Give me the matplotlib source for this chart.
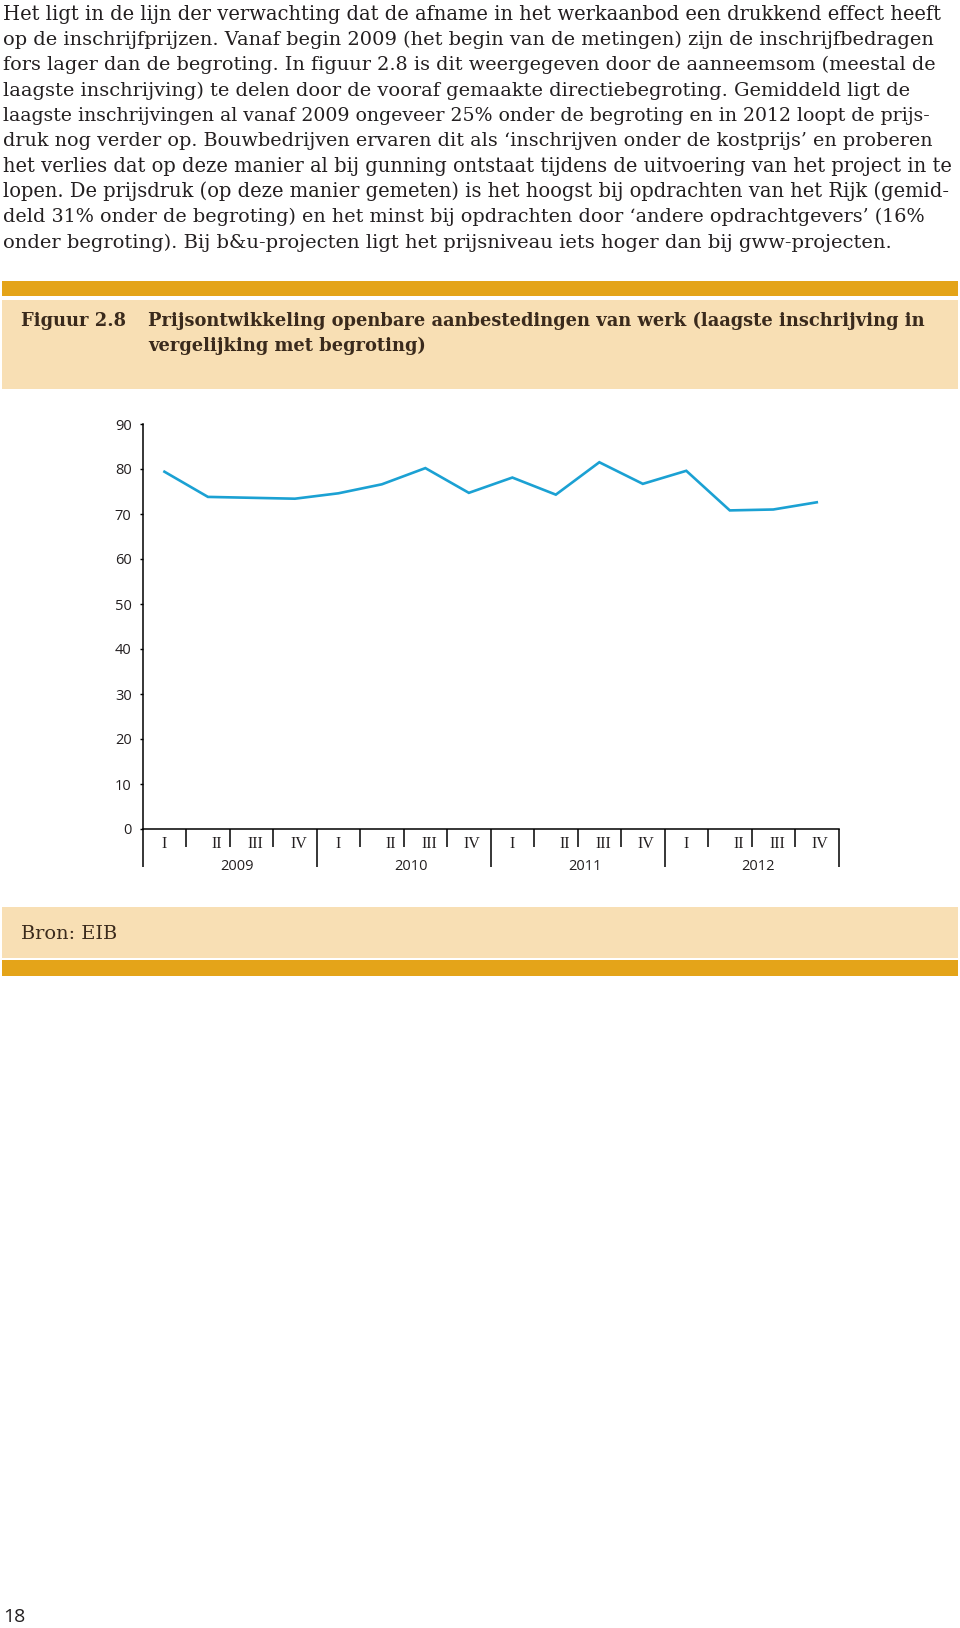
import matplotlib
matplotlib.use('Agg')
import matplotlib.pyplot as plt
from matplotlib.patches import Rectangle
from matplotlib.ticker import FixedLocator, NullFormatter

# ---------------- data ----------------
quarters = ['I', 'II', 'III', 'IV'] * 4
years = ['2009', '2010', '2011', '2012']
values = [79.4, 73.8, 73.6, 73.4, 74.6, 76.6, 80.2, 74.7,
          78.1, 74.3, 81.5, 76.7, 79.6, 70.8, 71.0, 72.6]
yticks = [0, 10, 20, 30, 40, 50, 60, 70, 80, 90]

body_lines = [
    "Het ligt in de lijn der verwachting dat de afname in het werkaanbod een drukkend effect heeft",
    "op de inschrijfprijzen. Vanaf begin 2009 (het begin van de metingen) zijn de inschrijfbedragen",
    "fors lager dan de begroting. In figuur 2.8 is dit weergegeven door de aanneemsom (meestal de",
    "laagste inschrijving) te delen door de vooraf gemaakte directiebegroting. Gemiddeld ligt de",
    "laagste inschrijvingen al vanaf 2009 ongeveer 25% onder de begroting en in 2012 loopt de prijs-",
    "druk nog verder op. Bouwbedrijven ervaren dit als \u2018inschrijven onder de kostprijs\u2019 en proberen",
    "het verlies dat op deze manier al bij gunning ontstaat tijdens de uitvoering van het project in te",
    "lopen. De prijsdruk (op deze manier gemeten) is het hoogst bij opdrachten van het Rijk (gemid-",
    "deld 31% onder de begroting) en het minst bij opdrachten door \u2018andere opdrachtgevers\u2019 (16%",
    "onder begroting). Bij b&u-projecten ligt het prijsniveau iets hoger dan bij gww-projecten.",
]
fig_label = "Figuur 2.8"
title_lines = [
    "Prijsontwikkeling openbare aanbestedingen van werk (laagste inschrijving in",
    "vergelijking met begroting)",
]
source_text = "Bron: EIB"
page_number = "18"

# ---------------- styling ----------------
W, H = 960, 1628
ORANGE = '#E4A419'
BEIGE = '#F8DFB4'
LINE = '#1BA1D3'
TEXT = '#231F20'
BROWN = '#3A2A1C'
body_ends = [937, 927, 927, 900, 926, 926, 948, 946, 916, 885]  # right edge per line (px)

fig = plt.figure(figsize=(W / 100, H / 100), dpi=100)
renderer = fig.canvas.get_renderer()


def fx(x):
    return x / W


def fy(y):
    return 1 - y / H


def rect(x0, y0, x1, y1, color):
    fig.add_artist(Rectangle((fx(x0), fy(y1)), (x1 - x0) / W, (y1 - y0) / H,
                             transform=fig.transFigure, facecolor=color,
                             edgecolor='none', lw=0, zorder=0))


def width_px(t):
    return t.get_window_extent(renderer).width


# body text, each line fitted to its measured width
sizes = []
for k, line in enumerate(body_lines):
    t = fig.text(fx(3), fy(19.5 + 25.37 * k), line, family='DejaVu Serif',
                 fontsize=12, color=TEXT, ha='left', va='baseline')
    fs = 12 * (body_ends[k] - 3) / width_px(t)
    t.set_fontsize(fs)
    sizes.append(fs)
body_fs = sum(sizes) / len(sizes)

# header box
rect(2, 281.5, 958, 296, ORANGE)
rect(2, 299.5, 958, 388.5, BEIGE)
lab = fig.text(fx(21), fy(326), fig_label, family='DejaVu Serif', weight='bold',
               fontsize=11, color=BROWN, ha='left', va='baseline')
tobjs = []
for k, line in enumerate(title_lines):
    t = fig.text(fx(148), fy(326 + 25 * k), line, family='DejaVu Serif',
                 weight='bold', fontsize=11, color=BROWN, ha='left', va='baseline')
    tobjs.append(t)
tscale = (919 - 148) / width_px(tobjs[0])
for t in tobjs + [lab]:
    t.set_fontsize(11 * tscale)

# source box
rect(2, 906.5, 958, 957.5, BEIGE)
rect(2, 960, 958, 976, ORANGE)
fig.text(fx(21), fy(939), source_text, family='DejaVu Serif',
         fontsize=body_fs, color=BROWN, ha='left', va='baseline')

# page number
fig.text(fx(3), fy(1622), page_number, family='Open Sans', fontsize=14,
         color=TEXT, ha='left', va='baseline')

# ---------------- chart ----------------
ax_l, ax_r, ax_t, ax_b = 142.7, 838.5, 424, 829
ax = fig.add_axes([fx(ax_l), fy(ax_b), (ax_r - ax_l) / W, (ax_b - ax_t) / H])
ax.set_facecolor('none')
n = len(values)
xs = [i + 0.5 for i in range(n)]
ax.plot(xs, values, color=LINE, lw=1.9, solid_joinstyle='miter', clip_on=False)
ax.set_xlim(0, n)
ax.set_ylim(0, 90)

for s in ['top', 'right']:
    ax.spines[s].set_visible(False)
for s in ['left', 'bottom']:
    ax.spines[s].set_linewidth(1.1)
    ax.spines[s].set_color('black')

ax.set_yticks(yticks)
ax.set_yticklabels([str(v) for v in yticks])
ax.tick_params(axis='y', direction='out', length=2.2, width=1.0, pad=5.8,
               labelsize=10.5, labelcolor=TEXT)
for lbl in ax.get_yticklabels():
    lbl.set_family('Open Sans')

ax.xaxis.set_major_locator(FixedLocator([4 * j for j in range(len(years) + 1)]))
ax.xaxis.set_minor_locator(FixedLocator([i for i in range(1, n) if i % 4]))
ax.xaxis.set_major_formatter(NullFormatter())
ax.xaxis.set_minor_formatter(NullFormatter())
ax.tick_params(axis='x', which='major', direction='out', length=27.4, width=1.1)
ax.tick_params(axis='x', which='minor', direction='out', length=13, width=1.1)

axh = ax_b - ax_t
q_off = [0.0, 0.2, 0.1, 0.08]
trans = ax.get_xaxis_transform()
for i, q in enumerate(quarters):
    ax.text(i + 0.5 + q_off[i % 4], -(843.5 - ax_b) / axh, q, transform=trans,
            ha='center', va='center', family='Liberation Serif', fontsize=11.5,
            color=TEXT)
for j, yr in enumerate(years):
    ax.text(4 * j + 2 + 0.16, -(867 - ax_b) / axh, yr, transform=trans,
            ha='center', va='center', family='Open Sans', fontsize=10.5, color=TEXT)

fig.savefig('out.png', dpi=100)
